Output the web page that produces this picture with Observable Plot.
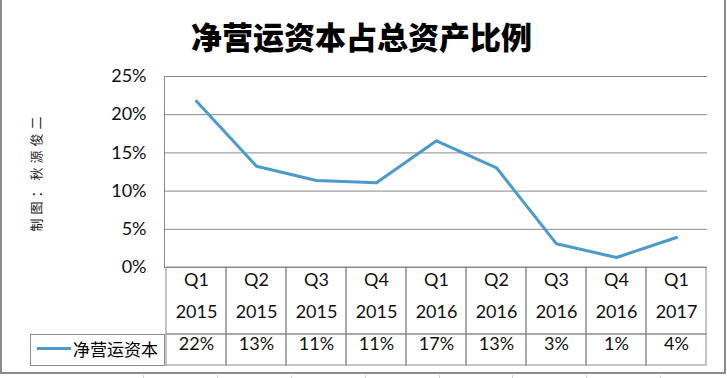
<!DOCTYPE html>
<html>
<head>
<meta charset="utf-8">
<script src="https://cdn.jsdelivr.net/npm/d3@7"></script>
<script src="https://cdn.jsdelivr.net/npm/@observablehq/plot@0.6"></script>
<style>
  html, body { margin: 0; padding: 0; background: #fff; }
  #wrap { position: relative; width: 727px; height: 378px; overflow: hidden; background: #fff; }
  #chart { position: absolute; left: 0; top: 0; }
  .abs { position: absolute; }
  #border { left: 0; top: -3px; width: 726px; height: 377px; box-sizing: border-box; border: 2px solid #8c8c8c; }
  #title { left: 0; width: 723px; top: 20px; text-align: center; font-family: "Noto Sans CJK SC"; font-weight: 900; font-size: 31px; line-height: 31px; color: #000; }
  #maker { left: 35px; top: 172px; transform: translate(-50%, -50%) rotate(-90deg); white-space: nowrap; font-family: "Noto Sans CJK SC"; font-size: 13px; letter-spacing: 4px; color: #222; line-height: 13px; }
  #legend { left: 30px; top: 334px; width: 135px; height: 32px; box-sizing: border-box; border: 1px solid #8c8c8c; }
  #legline { left: 6px; top: 12px; width: 34px; height: 3px; }
  #legtext { left: 42px; top: 3px; font-family: "Noto Sans CJK SC"; font-size: 17px; line-height: 22px; color: #000; white-space: nowrap; }
  .xl { width: 1px; height: 4px; top: 375px; background: #cfd6e2; }
</style>
</head>
<body>
<div id="wrap">
  <div id="chart" class="abs"></div>
  <div id="border" class="abs"></div>
  <div id="title" class="abs"></div>
  <div id="maker" class="abs"></div>
  <div id="legend" class="abs"><div id="legline" class="abs"></div><div id="legtext" class="abs"></div></div>
</div>
<script>
// ---- data ----
const titleText = "净营运资本占总资产比例";
const makerText = "制图：秋源俊二";
const seriesName = "净营运资本";
const quarters = ["Q1", "Q2", "Q3", "Q4", "Q1", "Q2", "Q3", "Q4", "Q1"];
const years = ["2015", "2015", "2015", "2015", "2016", "2016", "2016", "2016", "2017"];
const values = [0.2177, 0.1326, 0.1139, 0.1108, 0.1658, 0.1305, 0.0310, 0.0131, 0.0393];
const yTicks = [0, 0.05, 0.10, 0.15, 0.20, 0.25];
const excelCols = [143, 217, 291, 365, 439, 512, 586, 660];

// ---- styles ----
const lineColor = "#4a9bc8";
const gridColor = "#878787";
const tableColor = "#8c8c8c";
const pct = d3.format(".0%");

const data = quarters.map((q, i) => ({key: q + " " + years[i], quarter: q, year: years[i], value: values[i]}));

document.getElementById("title").textContent = titleText;
document.getElementById("maker").textContent = makerText;
document.getElementById("legtext").textContent = seriesName;
document.getElementById("legline").style.background = lineColor;
const wrap = document.getElementById("wrap");
for (const x of excelCols) {
  const d = document.createElement("div");
  d.className = "abs xl";
  d.style.left = x + "px";
  wrap.appendChild(d);
}

const chart = Plot.plot({
  width: 727,
  height: 378,
  marginLeft: 164,
  marginRight: 20,
  marginTop: 76,
  marginBottom: 111,
  style: {fontFamily: "Lato", fontSize: "18px", color: "#111", background: "transparent", overflow: "visible"},
  x: {type: "band", domain: data.map(d => d.key), padding: 0, axis: null},
  y: {domain: [0, 0.25]},
  marks: [
    Plot.gridY(yTicks, {stroke: gridColor, strokeOpacity: 1, strokeWidth: 1}),
    Plot.frame({anchor: "left", stroke: gridColor, strokeWidth: 1}),
    Plot.axisY(yTicks, {tickSize: 0, tickPadding: 18, tickFormat: d => Math.round(d * 100) + "%", label: null, fontSize: 18}),
    // table: header cells and value cells
    Plot.barY(data, {x: "key", y1: 0, y2: 0, insetBottom: -67, fill: "none", stroke: tableColor, strokeWidth: 1}),
    Plot.barY(data, {x: "key", y1: 0, y2: 0, insetTop: 67, insetBottom: -98, fill: "none", stroke: tableColor, strokeWidth: 1}),
    Plot.text(data, {x: "key", text: "quarter", frameAnchor: "bottom", dy: 18, fontSize: 18}),
    Plot.text(data, {x: "key", text: "year", frameAnchor: "bottom", dy: 50, fontSize: 18}),
    Plot.text(data, {x: "key", text: d => pct(d.value), frameAnchor: "bottom", dy: 82, fontSize: 18}),
    // the series
    Plot.lineY(data, {x: "key", y: "value", stroke: lineColor, strokeWidth: 3})
  ]
});
document.getElementById("chart").appendChild(chart);
</script>
</body>
</html>
